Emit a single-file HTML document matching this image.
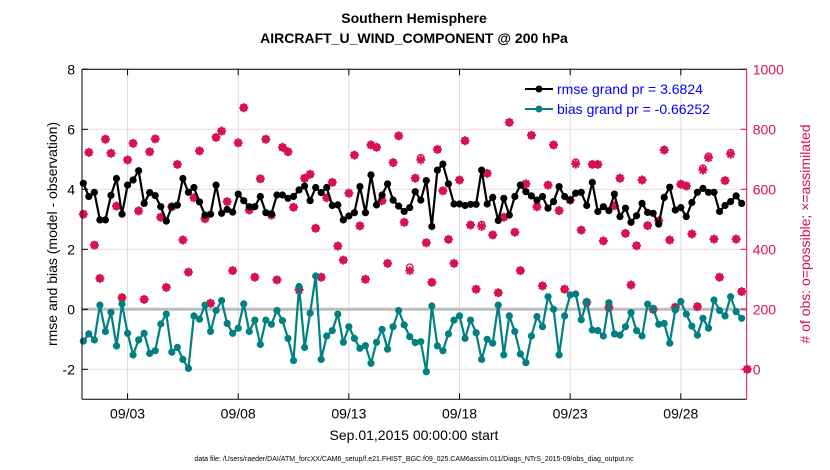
<!DOCTYPE html>
<html><head><meta charset="utf-8"><style>
body{margin:0;background:#fff;}
svg{display:block;font-family:"Liberation Sans",Arial,sans-serif;}
</style></head><body>
<svg id="chart" width="830" height="470" viewBox="0 0 830 470" xmlns="http://www.w3.org/2000/svg">
<rect width="830" height="470" fill="#fff"/>
<text x="414" y="23" font-size="14" font-weight="bold" text-anchor="middle">Southern Hemisphere</text>
<text x="414" y="43" font-size="14" font-weight="bold" text-anchor="middle">AIRCRAFT_U_WIND_COMPONENT @ 200 hPa</text>
<g id="grid"></g>
<g id="marks"></g>
<g id="axes"></g>
<text x="414" y="440" font-size="14" text-anchor="middle">Sep.01,2015 00:00:00 start</text>
<text x="414" y="461" font-size="7" text-anchor="middle">data file: /Users/raeder/DAI/ATM_forcXX/CAM6_setup/f.e21.FHIST_BGC.f09_025.CAM6assim.011/Diags_NTrS_2015-09/obs_diag_output.nc</text>
<text transform="translate(57,234) rotate(-90)" font-size="14" text-anchor="middle">rmse and bias (model - observation)</text>
<text transform="translate(810,234) rotate(-90)" font-size="14" text-anchor="middle" fill="#d6124f"># of obs: o=possible; ×=assimilated</text>
<g>
<line x1="525" y1="89" x2="553" y2="89" stroke="#000" stroke-width="2"/>
<circle cx="539" cy="89" r="3.5" fill="#000"/>
<text x="557" y="94" font-size="14" fill="#0000ff">rmse grand pr = 3.6824</text>
<line x1="525" y1="109" x2="553" y2="109" stroke="#008080" stroke-width="2"/>
<circle cx="539" cy="109" r="3.5" fill="#008080"/>
<text x="557" y="114" font-size="14" fill="#0000ff">bias grand pr = -0.66252</text>
</g>
</svg>
<script>
const rmse=[4.2,3.76,3.9,2.98,2.98,3.8,4.36,3.17,4.14,4.31,4.62,3.53,3.89,3.79,3.42,2.94,3.42,3.47,4.36,3.9,4.06,3.58,3.14,3.17,4.14,3.2,3.33,3.24,3.84,3.62,3.42,
3.42,3.76,3.22,3.18,3.81,3.81,3.7,3.76,3.98,4.11,3.62,4.06,3.89,4.06,3.46,3.48,2.98,3.11,3.22,4.09,3.22,4.48,3.48,3.81,4.18,3.64,3.44,3.26,3.39,3.92,
3.64,4.29,2.76,4.64,4.84,4.18,3.51,3.51,3.46,3.5,3.5,4.64,3.51,3.73,2.96,3.7,3.14,3.76,4.14,3.92,3.78,3.64,3.76,3.37,3.59,4.09,3.76,3.64,3.87,3.9,
3.46,4.23,3.26,3.42,3.29,3.84,3.09,3.37,2.9,3.12,3.53,3.23,3.2,2.84,3.73,4.07,3.31,3.39,3.09,3.56,3.9,4.03,3.9,3.9,3.26,3.46,3.59,3.78,3.53];
const bias=[-1.06,-0.82,-1.02,0.14,-0.74,-0.1,-1.22,0.18,-0.8,-1.52,-1.02,-0.8,-1.47,-1.38,-0.49,-0.16,-1.43,-1.27,-1.67,-1.97,-0.22,-0.33,0.14,-0.74,-0.04,0.29,-0.47,-0.8,-0.63,0.18,-0.74,
-0.36,-1.17,-0.36,-0.5,-0.04,-0.38,-0.97,-1.71,0.76,-1.27,-0.13,1.11,-1.67,-0.89,-0.71,-0.16,-1.1,-0.58,-0.97,-1.3,-1.21,-1.8,-1.1,-0.67,-1.33,-0.58,-0.04,-0.52,-0.91,-1.11,
-1.08,-2.08,0.11,-1.22,-1.38,-0.82,-0.36,-0.22,-0.97,-0.36,-0.78,-1.67,-1.0,-1.13,0.14,-1.52,-0.22,-0.74,-1.49,-1.78,-0.89,-0.24,-0.58,0.42,0,-1.52,-0.22,0.48,0.51,-0.35,
0.26,-0.69,-0.71,-0.89,0.22,-0.82,-0.86,-0.58,-0.11,-0.71,-0.89,0.17,0.03,-0.5,-0.47,-1.13,-0.02,0.26,-0.16,-0.56,-0.86,-0.3,-0.63,0.31,-0.04,-0.22,0.42,-0.08,-0.3];
const obsAssim=[517,723,414,303,767,720,544,239,698,753,528,233,725,768,507,273,542,683,431,324,572,728,502,220,773,794,559,329,755,872,531,
307,635,767,514,298,740,725,540,264,637,650,470,307,572,623,411,364,587,714,478,300,748,740,562,353,689,778,490,329,637,
698,422,290,733,595,433,353,631,762,481,267,476,653,448,255,507,823,457,329,618,780,542,278,614,748,529,267,564,684,464,
223,683,683,428,207,545,637,453,281,412,631,479,200,495,731,431,207,617,611,451,209,664,705,434,307,629,717,434,259,0];
const obsPossible=[517,723,414,303,767,720,544,239,698,753,528,233,725,768,507,273,542,683,431,324,572,728,502,220,773,794,559,329,755,872,531,
307,635,767,514,298,740,725,540,270,637,650,470,307,572,623,411,364,587,714,478,300,748,740,562,353,689,778,490,340,637,
705,422,290,733,595,433,353,631,762,481,267,482,653,448,255,507,823,457,329,618,780,542,278,614,748,529,267,564,690,464,
223,683,683,428,207,545,637,453,281,412,631,479,200,495,731,431,207,617,611,451,209,670,710,434,307,629,722,434,259,0];
const xTickLabels=["09/03","09/08","09/13","09/18","09/23","09/28"];
const xTickDays=[2,7,12,17,22,27];
const yLeftTicks=[-2,0,2,4,6,8];
const yRightTicks=[0,200,400,600,800,1000];

const L=82,R=746.7,T=69.3,B=399.3;
const xScale=d=>83.3+22.13*d;
const yL=v=>309.3-30*v;
const yR=v=>369.3-0.3*v;
const NS="http://www.w3.org/2000/svg";
function mk(tag,attrs,parent){const e=document.createElementNS(NS,tag);for(const k in attrs)e.setAttribute(k,attrs[k]);parent.appendChild(e);return e;}
const grid=document.getElementById('grid'),marks=document.getElementById('marks'),axes=document.getElementById('axes');
const PINK="#d6124f";
xTickDays.forEach((d,i)=>{
  const g=mk('line',{x1:xScale(d),x2:xScale(d),y1:T,y2:B,stroke:"#dcdcdc","stroke-width":1},grid);
  
  
  const t=mk('text',{x:xScale(d),y:B+19,"font-size":14,"text-anchor":"middle"},axes);
  t.textContent=xTickLabels[i];
  
  
  mk('line',{x1:xScale(d),x2:xScale(d),y1:T,y2:T+6,stroke:"#000"},axes);
  mk('line',{x1:xScale(d),x2:xScale(d),y1:B,y2:B-6,stroke:"#000"},axes);
});
yRightTicks.forEach(v=>{
  const g=mk('line',{x1:L,x2:R,y1:yR(v),y2:yR(v),stroke:"#f2d6e0","stroke-width":1},grid);
  
  
  const t=mk('text',{x:R+6,y:yR(v)+5,"font-size":14,fill:PINK},axes);
  t.textContent=v;
  
  
  mk('line',{x1:R,x2:R-6,y1:yR(v),y2:yR(v),stroke:PINK},axes);
});
yLeftTicks.forEach(v=>{
  const t=mk('text',{x:L-7,y:yL(v)+5,"font-size":14,"text-anchor":"end"},axes);
  t.textContent=v;
  
  
  mk('line',{x1:L,x2:L+6,y1:yL(v),y2:yL(v),stroke:"#000"},axes);
});
const zl=mk('line',{x1:L,x2:R,y1:yL(0),y2:yL(0),stroke:"#bdbdbd","stroke-width":3},grid);


obsAssim.forEach((v,i)=>{
  const x=xScale(i/4),y=yR(v);
  const g=mk('g',{},marks);
  
  
  mk('circle',{cx:x,cy:yR(obsPossible[i]),r:3.3,fill:"none",stroke:PINK,"stroke-width":1.3},g);
  mk('path',{d:`M${x-4.5},${y}H${x+4.5}M${x},${y-4.5}V${y+4.5}M${x-3.2},${y-3.2}L${x+3.2},${y+3.2}M${x-3.2},${y+3.2}L${x+3.2},${y-3.2}`,stroke:PINK,"stroke-width":2},g);
  mk('circle',{cx:x,cy:y,r:2.6,fill:PINK},g);
});
function series(arr,color,name){
  const pts=arr.map((v,i)=>xScale(i/4).toFixed(1)+","+yL(v).toFixed(1)).join(" ");
  const pl=mk('polyline',{points:pts,fill:"none",stroke:color,"stroke-width":2.2,"stroke-linejoin":"round"},marks);
  
  
  arr.forEach((v,i)=>{
    const c=mk('circle',{cx:xScale(i/4),cy:yL(v),r:3.6,fill:color},marks);
    
    
  });
}
series(rmse,"#000","rmse");
series(bias,"#008080","bias");
mk('line',{x1:L,x2:R,y1:T,y2:T,stroke:"#000"},axes);
mk('line',{x1:L,x2:R,y1:B,y2:B,stroke:"#000"},axes);
mk('line',{x1:L,x2:L,y1:T,y2:B,stroke:"#000"},axes);
mk('line',{x1:R,x2:R,y1:T,y2:B,stroke:PINK},axes);
</script>
</body></html>
